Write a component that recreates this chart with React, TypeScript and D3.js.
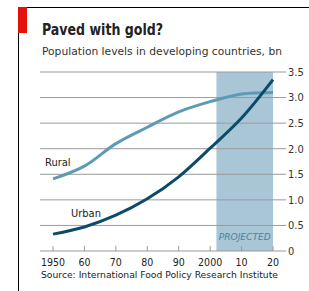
import * as d3 from "d3";

const years = [1950, 1960, 1970, 1980, 1990, 2000, 2010, 2020];
const rural = [1.41, 1.66, 2.1, 2.42, 2.72, 2.92, 3.07, 3.1];
const urban = [0.33, 0.47, 0.7, 1.02, 1.45, 2.01, 2.6, 3.35];
const yTicks = [0, 0.5, 1, 1.5, 2, 2.5, 3, 3.5];
const xTickLabels = ["1950", "60", "70", "80", "90", "2000", "10", "20"];
const projectedFrom = 2002;

const W = 309;
const H = 291;
const font = "'DejaVu Sans Condensed', 'Noto Sans', sans-serif";

export default function App() {
  const x = d3.scaleLinear().domain([1950, 2020]).range([53, 273]);
  const y = d3.scaleLinear().domain([0, 3.5]).range([251, 72]);
  const gridLeft = 40;
  const gridRight = 286;

  const line = d3
    .line<number>()
    .x((_, i) => x(years[i]))
    .y((d) => y(d))
    .curve(d3.curveCatmullRom);

  return (
    <svg
      width={W}
      height={H}
      style={{ position: "absolute", left: 0, top: 0, background: "#fff" }}
    >
      {/* frame */}
      <line x1={18.5} y1={7.5} x2={W} y2={7.5} stroke="#000" strokeWidth={1} />
      <line x1={18.5} y1={7.5} x2={18.5} y2={H} stroke="#000" strokeWidth={1} />
      <rect x={18} y={7} width={9} height={26} fill="#e3120b" />

      <text x={42} y={35} fontFamily={font} fontWeight="bold" fontSize={15} fill="#222"
        textLength={121} lengthAdjust="spacingAndGlyphs">
        Paved with gold?
      </text>
      <text x={42} y={55} fontFamily={font} fontSize={11} fill="#333"
        textLength={240} lengthAdjust="spacingAndGlyphs">
        Population levels in developing countries, bn
      </text>

      {/* projected band */}
      <rect
        x={x(projectedFrom)}
        y={y(3.5)}
        width={x(2020) - x(projectedFrom)}
        height={y(0) - y(3.5)}
        fill="#a9c6d7"
      />
      <text x={(x(projectedFrom) + x(2020)) / 2} y={239.5} textAnchor="middle"
        fontFamily={font} fontStyle="italic" fontSize={8.5} fill="#4d82a3"
        textLength={52} lengthAdjust="spacingAndGlyphs">
        PROJECTED
      </text>

      {/* grid */}
      {yTicks.map((t) => (
        <g key={t}>
          <line x1={gridLeft} x2={gridRight} y1={y(t)} y2={y(t)}
            stroke="#9a9a9a" strokeWidth={1} />
          <text x={288} y={y(t)} dy="0.35em" fontFamily={font} fontSize={11} fill="#333">
            {t === 0 ? "0" : t.toFixed(1)}
          </text>
        </g>
      ))}

      {/* x ticks */}
      {years.map((yr, i) => (
        <g key={yr}>
          <line x1={x(yr)} x2={x(yr)} y1={y(0)} y2={y(0) - 5} stroke="#9a9a9a" />
          <text x={x(yr)} y={265.5} textAnchor="middle" fontFamily={font} fontSize={10.5} fill="#222">
            {xTickLabels[i]}
          </text>
        </g>
      ))}

      <path d={line(rural) ?? ""} fill="none" stroke="#5f9ab4" strokeWidth={3} />
      <path d={line(urban) ?? ""} fill="none" stroke="#0b4a68" strokeWidth={3} />

      <text x={45} y={166} fontFamily={font} fontSize={11} fill="#222">Rural</text>
      <text x={71} y={216.5} fontFamily={font} fontSize={11} fill="#222">Urban</text>

      <text x={41} y={278} fontFamily={font} fontSize={9} fill="#222"
        textLength={237} lengthAdjust="spacingAndGlyphs">
        Source: International Food Policy Research Institute
      </text>
    </svg>
  );
}
